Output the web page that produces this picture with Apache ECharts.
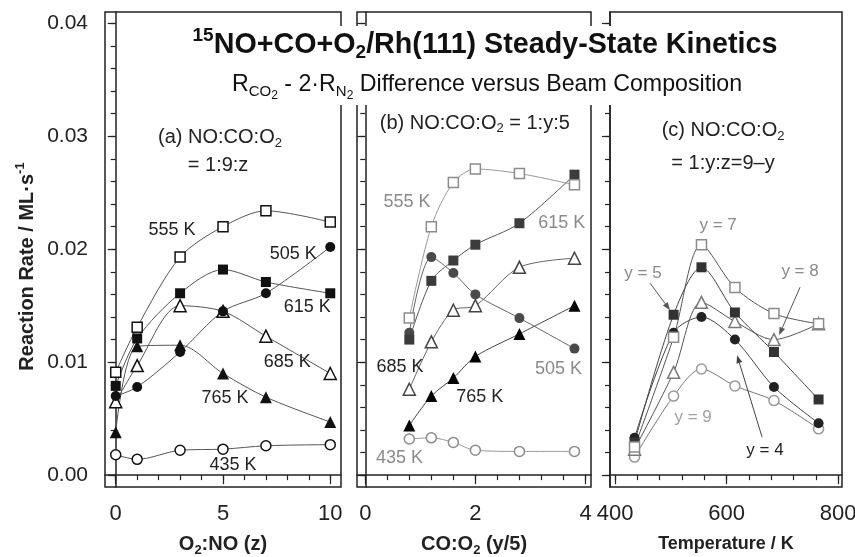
<!DOCTYPE html>
<html><head><meta charset="utf-8">
<script src="https://cdn.jsdelivr.net/npm/echarts@6/dist/echarts.min.js"></script>
<style>html,body{margin:0;padding:0;background:#fff}#c{width:855px;height:557px}</style>
</head><body><div id="c"></div>
<script>
// ---------- Panel (a): NO:CO:O2 = 1:9:z ----------
const zValues = [0, 1, 3, 5, 7, 10];
const a555 = [0.0091, 0.0131, 0.0193, 0.0220, 0.0234, 0.0224];
const a615 = [0.0079, 0.0121, 0.0161, 0.0182, 0.0171, 0.0161];
const a505 = [0.0070, 0.0078, 0.0109, 0.0145, 0.0161, 0.0202];
const a685 = [0.0065, 0.0097, 0.0150, 0.0145, 0.0123, 0.0090];
const a765 = [0.0038, 0.0114, 0.0115, 0.0090, 0.0069, 0.0047];
const a435 = [0.0018, 0.0014, 0.0022, 0.0023, 0.0026, 0.0027];

// ---------- Panel (b): NO:CO:O2 = 1:y:5 ----------
const coO2 = [0.8, 1.2, 1.6, 2.0, 2.8, 3.8];
const b555 = [0.0139, 0.0220, 0.0259, 0.0271, 0.0267, 0.0257];
const b615 = [0.0120, 0.0172, 0.0190, 0.0204, 0.0223, 0.0266];
const b505 = [0.0126, 0.0193, 0.0179, 0.0160, 0.0139, 0.0112];
const b685 = [0.0076, 0.0118, 0.0146, 0.0150, 0.0184, 0.0192];
const b765 = [0.0044, 0.0070, 0.0086, 0.0105, 0.0125, 0.0150];
const b435 = [0.0032, 0.0033, 0.0029, 0.0022, 0.0021, 0.0021];

// ---------- Panel (c): NO:CO:O2 = 1:y:z=9-y ----------
const temps = [435, 505, 555, 615, 685, 765];
const cY7 = [0.0025, 0.0122, 0.0204, 0.0166, 0.0143, 0.0134];
const cY5 = [0.0029, 0.0142, 0.0184, 0.0144, 0.0109, 0.0067];
const cY8 = [0.0023, 0.0091, 0.0153, 0.0136, 0.0120, 0.0134];
const cY4 = [0.0033, 0.0126, 0.0140, 0.0120, 0.0078, 0.0046];
const cY9 = [0.0016, 0.0070, 0.0094, 0.0079, 0.0066, 0.0041];

// ---------- ticks ----------
const yMajor = [0, 0.01, 0.02, 0.03, 0.04];
const yMinor = [0, 0.002, 0.004, 0.006, 0.008, 0.01, 0.012, 0.014, 0.016, 0.018, 0.02,
                0.022, 0.024, 0.026, 0.028, 0.03, 0.032, 0.034, 0.036, 0.038, 0.04];
const xMajorA = [0, 5, 10];
const xMinorA = [0, 1, 2, 3, 4, 5, 6, 7, 8, 9, 10];
const xMajorB = [0, 2, 4];
const xMinorB = [0, 0.4, 0.8, 1.2, 1.6, 2, 2.4, 2.8, 3.2, 3.6, 4];
const xMajorC = [400, 600, 800];
const xMinorC = [400, 440, 480, 520, 560, 600, 640, 680, 720, 760, 800];

const FF = '"Liberation Sans", Arial, Helvetica, sans-serif';
const INK = '#222';

function richFor(F, L, color, weight) {
  const s = Math.round(F * 0.66), ss = Math.round(F * 0.5);
  const base = {fontFamily: FF, fontWeight: weight, color: color, fill: color};
  return {
    n: Object.assign({fontSize: F, lineHeight: L, verticalAlign: 'middle'}, base),
    sub: Object.assign({fontSize: s, lineHeight: s, verticalAlign: 'top',
      padding: [Math.max(0, L / 2 + 0.28 * F - s / 2), 0, 0, 0]}, base),
    ss: Object.assign({fontSize: ss, lineHeight: ss, verticalAlign: 'top',
      padding: [Math.max(0, L / 2 + 0.45 * F - ss / 2), 0, 0, 0]}, base),
    sup: Object.assign({fontSize: s, lineHeight: s, verticalAlign: 'top',
      padding: [Math.max(0, L / 2 - 0.36 * F - s / 2), 0, 0, 0]}, base)
  };
}

const Y_MIN = -0.00105, Y_MAX = 0.041;
const grids = [
  {left: 105, top: 12, width: 236, height: 475},
  {left: 357, top: 12, width: 234, height: 475},
  {left: 610, top: 12, width: 232, height: 475}
].map(g => Object.assign({show: true, borderColor: INK, borderWidth: 1.5, backgroundColor: 'transparent',
  containLabel: false, outerBoundsMode: 'none'}, g));

function xAxesFor(gi, min, max, major, minor, name, nameSize) {
  return [
    {type: 'value', gridIndex: gi, position: 'bottom', min, max,
     axisLine: {show: false}, splitLine: {show: false}, axisLabel: {show: false},
     axisTick: {show: true, length: 5, customValues: minor, lineStyle: {color: INK, width: 1.2}}},
    {type: 'value', gridIndex: gi, position: 'bottom', min, max,
     axisLine: {show: true, lineStyle: {color: INK, width: 1.5}}, splitLine: {show: false},
     axisTick: {show: true, length: 9, customValues: major, lineStyle: {color: INK, width: 1.2}},
     axisLabel: {show: true, customValues: major, fontSize: 22, fontFamily: FF, color: INK, margin: 16},
     name: name, nameLocation: 'middle', nameGap: 44,
     nameTextStyle: Object.assign({fontSize: nameSize, fontWeight: 'bold', fontFamily: FF, color: INK,
       lineHeight: 27, rich: richFor(nameSize, 27, INK, 'bold')})}
  ];
}
function yAxesFor(gi, withLabels) {
  const major = {type: 'value', gridIndex: gi, position: 'left', min: Y_MIN, max: Y_MAX,
     axisLine: {show: true, lineStyle: {color: INK, width: 1.5}}, splitLine: {show: false},
     axisTick: {show: true, length: 8, customValues: yMajor, lineStyle: {color: INK, width: 1.2}},
     axisLabel: {show: withLabels, customValues: yMajor, fontSize: 21, fontFamily: FF, color: INK, margin: 17,
       formatter: v => v.toFixed(2)}};
  if (withLabels) {
    major.name = 'Reaction Rate / ML·s{sup|-1}';
    major.nameLocation = 'middle';
    major.nameGap = 64;
    major.nameTextStyle = {fontSize: 20, fontWeight: 'bold', fontFamily: FF, color: INK, lineHeight: 27,
      padding: [0, 34, 0, 0], rich: richFor(20, 27, INK, 'bold')};
  }
  return [
    {type: 'value', gridIndex: gi, position: 'left', min: Y_MIN, max: Y_MAX,
     axisLine: {show: false}, splitLine: {show: false}, axisLabel: {show: false},
     axisTick: {show: true, length: 5, customValues: yMinor, lineStyle: {color: INK, width: 1.2}}},
    major
  ];
}

const SYM_SIZE = {rect: 10, circle: 10, triangle: 12};
function ser(gi, xs, ys, sym, filled, color, lineColor) {
  return {
    type: 'line', xAxisIndex: gi * 2 + 1, yAxisIndex: gi * 2 + 1,
    data: xs.map((x, i) => [x, ys[i]]),
    symbol: sym, symbolSize: SYM_SIZE[sym], showSymbol: true,
    smooth: 0.3,
    itemStyle: {color: filled ? color : '#fff', borderColor: color, borderWidth: filled ? 0 : 1.5},
    lineStyle: {color: lineColor, width: 1},
    emphasis: {disabled: true}, silent: true
  };
}

const series = [
  // panel a (indices 0-5)
  ser(0, zValues, a435, 'circle', false, '#111', '#555'),
  ser(0, zValues, a765, 'triangle', true, '#111', '#555'),
  ser(0, zValues, a685, 'triangle', false, '#111', '#555'),
  ser(0, zValues, a505, 'circle', true, '#111', '#555'),
  ser(0, zValues, a615, 'rect', true, '#111', '#555'),
  ser(0, zValues, a555, 'rect', false, '#111', '#555'),
  // panel b (indices 6-11)
  ser(1, coO2, b435, 'circle', false, '#8c8c8c', '#999'),
  ser(1, coO2, b765, 'triangle', true, '#000', '#444'),
  ser(1, coO2, b685, 'triangle', false, '#444', '#666'),
  ser(1, coO2, b505, 'circle', true, '#4a4a4a', '#666'),
  ser(1, coO2, b615, 'rect', true, '#3c3c3c', '#555'),
  ser(1, coO2, b555, 'rect', false, '#8c8c8c', '#999'),
  // panel c (indices 12-16)
  ser(2, temps, cY9, 'circle', false, '#9a9a9a', '#777'),
  ser(2, temps, cY4, 'circle', true, '#222', '#444'),
  ser(2, temps, cY8, 'triangle', false, '#7a7a7a', '#555'),
  ser(2, temps, cY5, 'rect', true, '#333', '#444'),
  ser(2, temps, cY7, 'rect', false, '#8c8c8c', '#555')
];

const option = {
  animation: false,
  backgroundColor: '#fff',
  grid: grids,
  xAxis: [].concat(
    xAxesFor(0, -0.5, 10.5, xMajorA, xMinorA, 'O{sub|2}:NO (z)', 20),
    xAxesFor(1, -0.15, 4.1, xMajorB, xMinorB, 'CO:O{sub|2} (y/5)', 20),
    xAxesFor(2, 391, 807, xMajorC, xMinorC, 'Temperature / K', 18)
  ),
  yAxis: [].concat(yAxesFor(0, true), yAxesFor(1, false), yAxesFor(2, false)),
  series: series
};

const chart = echarts.init(document.getElementById('c'));
chart.setOption(option);

// annotations placed in data coordinates of each panel (si = a series of that panel)
const BLACK = '#222', GRAY = '#8a8a8a', LGRAY = '#a0a0a0';
const notes = [
  {si: 0, x: 4.86, y: 0.0299, t: '(a) NO:CO:O{sub|2}', c: BLACK, f: 20},
  {si: 0, x: 4.77, y: 0.0274, t: '= 1:9:z', c: BLACK, f: 20},
  {si: 0, x: 2.62, y: 0.0217, t: '555 K', c: BLACK, f: 18},
  {si: 0, x: 8.27, y: 0.0196, t: '505 K', c: BLACK, f: 18},
  {si: 0, x: 8.93, y: 0.01487, t: '615 K', c: BLACK, f: 18},
  {si: 0, x: 7.99, y: 0.0100, t: '685 K', c: BLACK, f: 18},
  {si: 0, x: 5.09, y: 0.0068, t: '765 K', c: BLACK, f: 18},
  {si: 0, x: 5.47, y: 0.00088, t: '435 K', c: BLACK, f: 18},
  {si: 6, x: 1.99, y: 0.03115, t: '(b) NO:CO:O{sub|2} = 1:y:5', c: BLACK, f: 20},
  {si: 6, x: 0.76, y: 0.02416, t: '555 K', c: GRAY, f: 18},
  {si: 6, x: 3.57, y: 0.0223, t: '615 K', c: GRAY, f: 18},
  {si: 6, x: 0.63, y: 0.00956, t: '685 K', c: BLACK, f: 18},
  {si: 6, x: 2.08, y: 0.0069, t: '765 K', c: BLACK, f: 18},
  {si: 6, x: 3.51, y: 0.00938, t: '505 K', c: GRAY, f: 18},
  {si: 6, x: 0.62, y: 0.0015, t: '435 K', c: GRAY, f: 18},
  {si: 12, x: 593.7, y: 0.0305, t: '(c) NO:CO:O{sub|2}', c: BLACK, f: 20},
  {si: 12, x: 593.7, y: 0.0276, t: '= 1:y:z=9–y', c: BLACK, f: 20},
  {si: 12, x: 584.8, y: 0.0221, t: 'y = 7', c: GRAY, f: 17},
  {si: 12, x: 450.2, y: 0.0179, t: 'y = 5', c: GRAY, f: 17},
  {si: 12, x: 731.8, y: 0.0180, t: 'y = 8', c: GRAY, f: 17},
  {si: 12, x: 540.0, y: 0.00513, t: 'y = 9', c: LGRAY, f: 17},
  {si: 12, x: 669.0, y: 0.0022, t: 'y = 4', c: BLACK, f: 17}
];
const arrows = [
  {si: 12, from: [462.8, 0.0170], to: [498.7, 0.0146], c: '#555'},
  {si: 12, from: [731.8, 0.01664], to: [694.2, 0.01239], c: '#555'},
  {si: 12, from: [663.7, 0.00336], to: [618.8, 0.01062], c: '#444'}
];

const gfx = [
  {type: 'rect', z: 100, shape: {x: 186, y: 26, width: 600, height: 79}, style: {fill: '#fff'}},
  {type: 'text', z: 101, x: 485, y: 45,
   style: {text: '{sup|15}NO+CO+O{sub|2}/Rh(111) Steady-State Kinetics', fontSize: 28.7, fontWeight: 'bold',
     fontFamily: FF, fill: '#111', align: 'center', verticalAlign: 'middle', lineHeight: 37,
     rich: richFor(28.7, 37, '#111', 'bold')}},
  {type: 'text', z: 101, x: 487, y: 85,
   style: {text: 'R{sub|CO}{ss|2} - 2·R{sub|N}{ss|2} Difference versus Beam Composition', fontSize: 23.2,
     fontFamily: FF, fill: '#111', align: 'center', verticalAlign: 'middle', lineHeight: 33,
     rich: richFor(23.2, 33, '#111', 'normal')}}
];
notes.forEach(n => {
  const p = chart.convertToPixel({seriesIndex: n.si}, [n.x, n.y]);
  const L = Math.round(n.f * 1.3);
  gfx.push({type: 'text', z: 50, x: p[0], y: p[1],
    style: {text: n.t, fontSize: n.f, fontFamily: FF, fill: n.c, align: 'center', verticalAlign: 'middle',
      lineHeight: L, rich: richFor(n.f, L, n.c, 'normal')}});
});
arrows.forEach(a => {
  const p1 = chart.convertToPixel({seriesIndex: a.si}, a.from);
  const p2 = chart.convertToPixel({seriesIndex: a.si}, a.to);
  const ang = Math.atan2(p2[1] - p1[1], p2[0] - p1[0]);
  const hl = 8, hw = 3;
  const bx = p2[0] - hl * Math.cos(ang), by = p2[1] - hl * Math.sin(ang);
  gfx.push({type: 'line', z: 50, shape: {x1: p1[0], y1: p1[1], x2: bx, y2: by},
    style: {stroke: a.c, lineWidth: 1}});
  gfx.push({type: 'polygon', z: 50, shape: {points: [
    [p2[0], p2[1]],
    [bx + hw * Math.sin(ang), by - hw * Math.cos(ang)],
    [bx - hw * Math.sin(ang), by + hw * Math.cos(ang)]
  ]}, style: {fill: a.c}});
});
chart.setOption({graphic: gfx});
</script>
</body></html>
